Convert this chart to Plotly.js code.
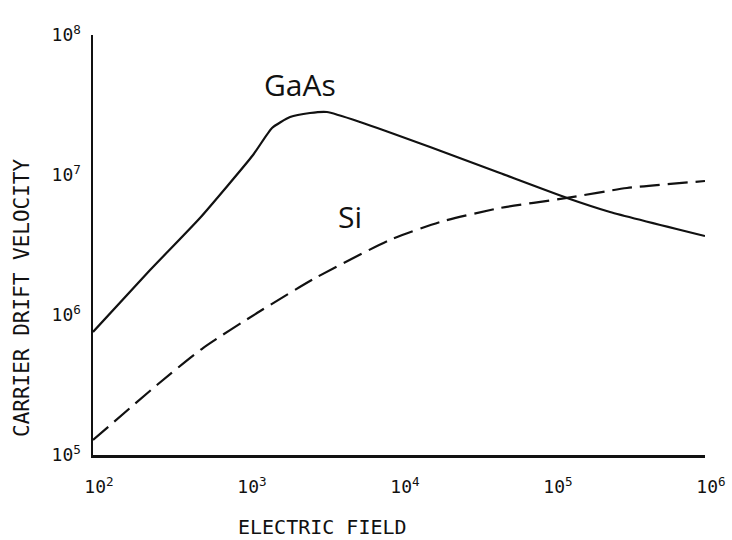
<!DOCTYPE html>
<html>
<head>
<meta charset="utf-8">
<script src="https://cdn.plot.ly/plotly-3.0.1.min.js"></script>
<style>html,body{margin:0;padding:0;background:#fff;}#chart{width:732px;height:540px;}</style>
</head>
<body>
<div id="chart"></div>
<script>
// Electric field (V/cm) and drift velocity (cm/s) (log10 values)
const gaasLogField = [2.0, 2.373, 2.699, 3.046, 3.170, 3.288, 3.418, 3.529, 3.745, 4.203, 4.660, 5.098, 5.379, 6.0];
const gaasLogVel   = [5.879, 6.321, 6.693, 7.143, 7.336, 7.414, 7.443, 7.450, 7.379, 7.200, 7.014, 6.836, 6.736, 6.564];
const siLogField   = [2.0, 2.418, 2.719, 3.072, 3.464, 3.941, 4.268, 4.660, 5.098, 5.490, 6.0];
const siLogVel     = [5.107, 5.500, 5.764, 6.014, 6.271, 6.536, 6.664, 6.764, 6.836, 6.907, 6.957];

const xTickVals = [1e2, 1e3, 1e4, 1e5, 1e6];
const xTickText = ['10<sup>2</sup>', '10<sup>3</sup>', '10<sup>4</sup>', '10<sup>5</sup>', '10<sup>6</sup>'];
const yTickVals = [1e5, 1e6, 1e7, 1e8];
const yTickText = ['10<sup>5</sup>', '10<sup>6</sup>', '10<sup>7</sup>', '10<sup>8</sup>'];

const pow10 = a => a.map(v => Math.pow(10, v));

const traces = [
  {x: pow10(gaasLogField), y: pow10(gaasLogVel), mode: 'lines', name: 'GaAs',
   line: {color: '#111', width: 2.2, shape: 'spline', smoothing: 0.5}},
  {x: pow10(siLogField), y: pow10(siLogVel), mode: 'lines', name: 'Si',
   line: {color: '#111', width: 2.2, shape: 'spline', smoothing: 0.6, dash: '20px,8px'}}
];

const tickFont = {family: 'DejaVu Sans Mono', size: 18, color: '#111'};
const layout = {
  width: 732, height: 540,
  margin: {l: 93, r: 27, t: 35, b: 85},
  paper_bgcolor: '#fff', plot_bgcolor: '#fff',
  showlegend: false,
  xaxis: {type: 'log', range: [2, 6], showgrid: false, zeroline: false,
          showline: true, linecolor: '#111', linewidth: 2.5, ticks: '',
          tickvals: xTickVals, ticktext: xTickText, tickfont: tickFont,
          ticklabelstandoff: 14, ticklabelshift: 6},
  yaxis: {type: 'log', range: [5, 8], showgrid: false, zeroline: false,
          showline: true, linecolor: '#111', linewidth: 2.5, ticks: '',
          tickvals: yTickVals, ticktext: yTickText, tickfont: tickFont,
          ticklabelstandoff: 6},
  annotations: [
    {text: 'GaAs', xref: 'paper', yref: 'paper', x: (300-93)/612, y: (455-84)/420,
     xanchor: 'center', yanchor: 'middle',
     showarrow: false, font: {family: 'Open Sans', size: 30, color: '#111'}},
    {text: 'Si', xref: 'paper', yref: 'paper', x: (350-93)/612, y: (455-216)/420,
     xanchor: 'center', yanchor: 'middle',
     showarrow: false, font: {family: 'Open Sans', size: 30, color: '#111'}},
    {text: 'ELECTRIC FIELD', xref: 'paper', yref: 'paper', x: (322-93)/612, y: (455-527)/420,
     xanchor: 'center', yanchor: 'middle',
     showarrow: false, font: {family: 'DejaVu Sans Mono', size: 20, color: '#111'}},
    {text: 'CARRIER DRIFT VELOCITY', xref: 'paper', yref: 'paper', x: (22-93)/612, y: (455-298)/420,
     xanchor: 'center', yanchor: 'middle',
     showarrow: false, textangle: -90, font: {family: 'DejaVu Sans Mono', size: 21, color: '#111'}}
  ]
};

Plotly.newPlot('chart', traces, layout, {displayModeBar: false, staticPlot: true});
</script>
</body>
</html>
